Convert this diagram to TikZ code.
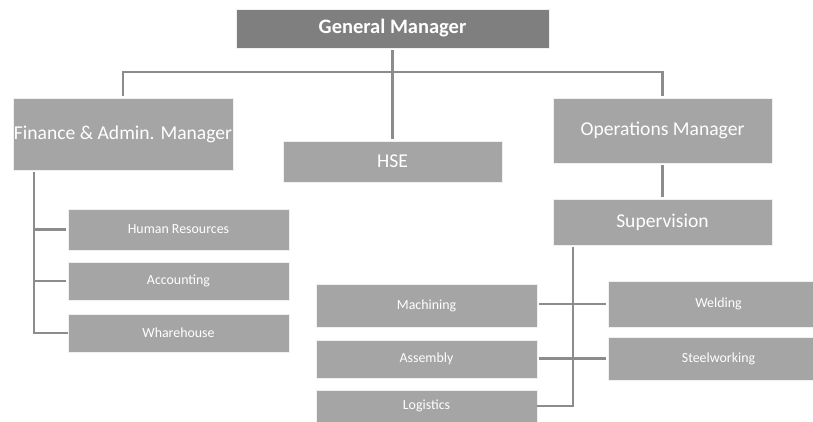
\documentclass[tikz,border=0pt]{standalone}
\usepackage{fontspec}
\setmainfont{Carlito}
\usetikzlibrary{positioning,calc}

\definecolor{boxgray}{HTML}{A5A5A5}
\definecolor{topgray}{HTML}{7F7F7F}
\definecolor{linegray}{HTML}{8C8C8C}

\begin{document}
\begin{tikzpicture}[x=1pt, y=-1pt, semithick]
	\tikzstyle{unit}=[rectangle,fill=boxgray,draw=white!88!gray,line width=0.4pt,text=white,inner sep=0pt]
	\tikzstyle{big}=[unit,font=\fontsize{19.6}{22}\selectfont]
	\tikzstyle{small}=[unit,font=\fontsize{13.9}{16}\selectfont]
	\tikzstyle{link}=[draw=linegray,line width=2.3pt,shorten >=2pt,shorten <=2pt]
	\useasboundingbox (0,0) rectangle (813,422);
	\node[unit,fill=topgray,font=\fontsize{20.5}{23}\selectfont\bfseries,minimum width=313pt,minimum height=39pt] (GM) at (392.5,28.5) {General Manager};
	\node[big,minimum width=220pt,minimum height=72pt] (FIN) at (123,134) {Finance \& Admin. Manager};
	\node[big,minimum width=219pt,minimum height=41pt] (HSE) at (392.5,161.5) {HSE};
	\node[big,minimum width=219pt,minimum height=65pt] (OPS) at (662.5,130.5) {Operations Manager};
	\node[big,minimum width=219pt,minimum height=46pt] (SUP) at (662.5,222) {Supervision};
	\node[small,minimum width=221pt,minimum height=41pt] (HR)  at (178.5,229.5) {Human Resources};
	\node[small,minimum width=221pt,minimum height=38pt] (ACC) at (178.5,281) {Accounting};
	\node[small,minimum width=221pt,minimum height=38pt] (WH)  at (178.5,333) {Wharehouse};
	\node[small,minimum width=221pt,minimum height=43pt] (MAC) at (426.5,305.5) {Machining};
	\node[small,minimum width=221pt,minimum height=38pt] (ASM) at (426.5,359) {Assembly};
	\node[small,minimum width=221pt,minimum height=32pt] (LOG) at (426.5,406) {Logistics};
	\node[small,minimum width=221pt,minimum height=46pt] (WEL) at (718.5,304) {Welding};
	\node[small,minimum width=221pt,minimum height=43pt] (STL) at (718.5,358.5) {Steelworking};
	% top level
	\coordinate (bus) at (392.5,72);
	\draw[link] (GM) -- (HSE);
	\draw[link] (FIN.north) |- (bus) -| (OPS.north);
	\draw[link] (OPS) -- (SUP);
	% finance branch
	\coordinate (fbus) at (34,331);
	\draw[link,shorten >=0pt] (FIN.south -| fbus) |- (WH.west);
	\draw[link,shorten <=0pt] (fbus |- HR) -- (HR.west);
	\draw[link,shorten <=0pt] (fbus |- ACC) -- (ACC.west);
	% operations branch
	\coordinate (sbus) at (573,406);
	\draw[link,shorten >=0pt] (SUP.south -| sbus) |- (LOG.east);
	\draw[link] (MAC.east |- WEL) -- (WEL.west);
	\draw[link] (ASM.east |- STL) -- (STL.west);
\end{tikzpicture}
\end{document}
